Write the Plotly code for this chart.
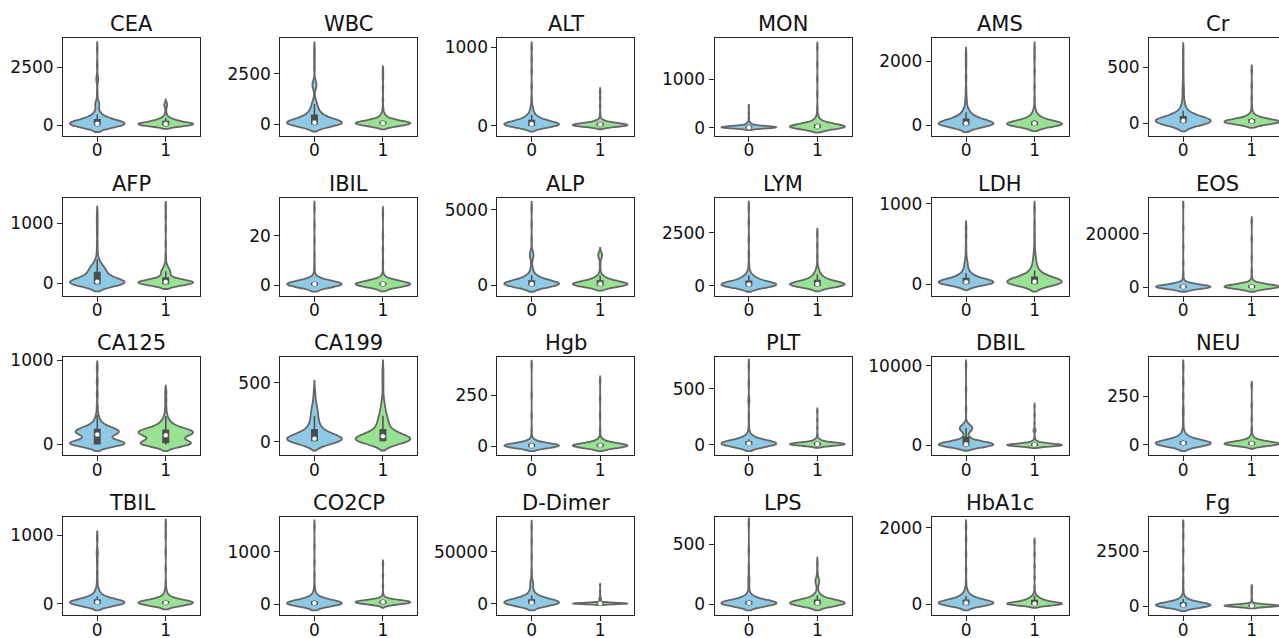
import numpy as np
import plotly.graph_objects as go

# ---------------- data ----------------
TITLES = ["CEA", "WBC", "ALT", "MON", "AMS", "Cr",
          "AFP", "IBIL", "ALP", "LYM", "LDH", "EOS",
          "CA125", "CA199", "Hgb", "PLT", "DBIL", "NEU",
          "TBIL", "CO2CP", "D-Dimer", "LPS", "HbA1c", "Fg"]
GROUPS = [0, 1]
GROUP_LABELS = ["0", "1"]
Y_TICK = [2500, 2500, 1000, 1000, 2000, 500,
          1000, 20, 5000, 2500, 1000, 20000,
          1000, 500, 250, 500, 10000, 250,
          1000, 1000, 50000, 500, 2000, 2500]
Y_RANGE = [(-473, 3750), (-583, 4272), (-128, 1119), (-172, 1848), (-343, 2720), (-116, 759),
           (-203, 1420), (-4.28, 35.3), (-704, 5815), (-468, 4170), (-144, 1078), (-3060, 33370),
           (-129, 1035), (-117.5, 716), (-43.6, 435), (-94, 780), (-1240, 11030), (-54, 448),
           (-166, 1263), (-203, 1659), (-10940, 83400), (-89, 728), (-279, 2279), (-410, 4046)]
BANDWIDTH = [(150, 85), (180, 125), (36, 21), (24, 52), (110, 95), (37, 22),
             (65, 46), (1.33, 1.25), (220, 186), (140, 132), (37, 47), (800, 800),
             (39, 39), (38, 38), (11.3, 11.3), (28, 13), (330, 165), (16, 10),
             (48, 41), (57, 32), (3200, 640), (25, 25), (78, 44), (114, 53)]

# value / count tables for each violin
CEA_0_val = [0, 20, 50, 100, 200, 300, 450, 600, 850, 950, 1400, 1950, 2050, 2600, 3270]
CEA_0_cnt = [22, 22, 18, 14, 12, 10, 5, 2, 3, 3, 1, 2, 1, 1, 1]
CEA_1_val = [0, 15, 40, 80, 150, 220, 300, 450, 600, 800, 900, 930]
CEA_1_cnt = [22, 22, 18, 14, 12, 10, 5, 2, 1, 2, 2, 1]

WBC_0_val = [0, 30, 80, 150, 300, 450, 650, 850, 1000, 1200, 1800, 1950, 2100, 2800, 3300, 3690]
WBC_0_cnt = [22, 22, 18, 14, 12, 10, 6, 4, 3, 2, 2, 3, 2, 1, 1, 1]
WBC_1_val = [0, 20, 50, 100, 180, 280, 400, 550, 800, 1200, 1800, 2300, 2610]
WBC_1_cnt = [25, 25, 20, 14, 10, 6, 4, 2, 1, 1, 1, 1, 1]

ALT_0_val = [0, 10, 25, 45, 70, 100, 140, 190, 250, 350, 500, 700, 850, 990]
ALT_0_cnt = [20, 22, 20, 15, 10, 8, 5, 3, 2, 1, 1, 1, 1, 1]
ALT_1_val = [0, 8, 18, 30, 45, 65, 90, 150, 250, 350, 440]
ALT_1_cnt = [25, 25, 20, 14, 8, 4, 2, 1, 1, 1, 1]

MON_0_val = [0, 5, 12, 22, 35, 60, 85, 110, 200, 300, 420]
MON_0_cnt = [25, 25, 20, 12, 6, 3, 3, 2, 1, 1, 1]
MON_1_val = [0, 10, 25, 50, 80, 120, 170, 250, 400, 700, 1000, 1300, 1650]
MON_1_cnt = [25, 25, 20, 14, 10, 6, 3, 2, 1, 1, 1, 1, 1]

AMS_0_val = [0, 20, 50, 100, 180, 280, 400, 550, 800, 1100, 1500, 1900, 2200]
AMS_0_cnt = [22, 22, 18, 14, 12, 9, 5, 3, 2, 1, 1, 1, 1]
AMS_1_val = [0, 20, 50, 90, 160, 250, 350, 500, 800, 1200, 1700, 2100, 2390]
AMS_1_cnt = [25, 25, 20, 14, 10, 6, 4, 2, 1, 1, 1, 1, 1]

CR_0_val = [0, 8, 20, 35, 55, 80, 110, 150, 200, 280, 350, 420, 520, 640]
CR_0_cnt = [20, 25, 22, 14, 10, 7, 4, 3, 2, 2, 1, 1, 1, 1]
CR_1_val = [0, 6, 15, 28, 45, 65, 90, 140, 220, 330, 470]
CR_1_cnt = [20, 25, 22, 14, 8, 4, 2, 1, 1, 1, 1]

AFP_0_val = [0, 10, 30, 70, 120, 180, 250, 320, 400, 500, 650, 850, 1000, 1140]
AFP_0_cnt = [30, 22, 10, 10, 10, 10, 10, 5, 2, 1, 1, 1, 1, 1]
AFP_1_val = [0, 10, 25, 50, 90, 150, 200, 250, 320, 450, 650, 900, 1100, 1260]
AFP_1_cnt = [30, 25, 18, 10, 6, 6, 7, 4, 2, 1, 1, 1, 1, 1]

IBIL_0_val = [0, 0.2, 0.4, 0.7, 1.0, 1.5, 2.2, 3.0, 5, 8, 12, 18, 24, 31]
IBIL_0_cnt = [20, 25, 22, 14, 8, 5, 3, 2, 1, 1, 1, 1, 1, 1]
IBIL_1_val = [0, 0.2, 0.4, 0.7, 1.0, 1.5, 2.2, 3.0, 5, 9, 14, 20, 29]
IBIL_1_cnt = [20, 25, 22, 14, 8, 5, 3, 2, 1, 1, 1, 1, 1]

ALP_0_val = [0, 30, 80, 150, 280, 450, 650, 900, 1200, 1800, 2000, 2200, 3000, 4000, 5100]
ALP_0_cnt = [22, 22, 18, 14, 12, 9, 5, 2, 2, 2, 3, 2, 1, 1, 1]
ALP_1_val = [0, 30, 80, 150, 280, 450, 650, 1000, 1400, 1850, 2000, 2100]
ALP_1_cnt = [25, 25, 20, 14, 10, 8, 3, 1, 1, 2, 3, 2]

LYM_0_val = [0, 20, 60, 120, 220, 350, 500, 700, 1000, 1500, 2200, 3000, 3700]
LYM_0_cnt = [22, 22, 18, 14, 12, 9, 5, 2, 1, 1, 1, 1, 1]
LYM_1_val = [0, 30, 80, 150, 250, 400, 550, 750, 1000, 1400, 1900, 2440]
LYM_1_cnt = [20, 22, 20, 16, 12, 8, 5, 3, 1, 1, 1, 1]

LDH_0_val = [0, 10, 25, 45, 70, 100, 140, 190, 250, 300, 380, 480, 600, 710]
LDH_0_cnt = [18, 22, 22, 18, 12, 9, 6, 4, 3, 2, 1, 1, 1, 1]
LDH_1_val = [0, 12, 30, 55, 85, 120, 170, 230, 300, 380, 480, 600, 750, 935]
LDH_1_cnt = [18, 22, 22, 18, 12, 9, 6, 4, 3, 2, 1, 1, 1, 1]

EOS_0_val = [0, 100, 250, 500, 900, 1400, 2000, 3000, 5000, 9000, 15000, 22000, 30300]
EOS_0_cnt = [25, 25, 20, 14, 8, 4, 2, 1, 1, 1, 1, 1, 1]
EOS_1_val = [0, 120, 300, 600, 1000, 1500, 2200, 3500, 6000, 11000, 18000, 24500]
EOS_1_cnt = [22, 25, 20, 15, 9, 5, 2, 1, 1, 1, 1, 1]

CA125_0_val = [0, 10, 25, 60, 120, 150, 180, 220, 280, 350, 450, 600, 750, 910]
CA125_0_cnt = [15, 20, 15, 6, 14, 18, 14, 8, 4, 2, 1, 1, 1, 1]
CA125_1_val = [0, 10, 25, 60, 110, 140, 170, 210, 270, 340, 420, 520, 620]
CA125_1_cnt = [12, 15, 12, 6, 14, 20, 16, 9, 5, 2, 1, 1, 1]

CA199_0_val = [0, 10, 25, 45, 70, 100, 140, 180, 220, 260, 300, 350, 400, 440]
CA199_0_cnt = [18, 22, 20, 14, 10, 8, 6, 5, 4, 4, 3, 2, 1, 1]
CA199_1_val = [0, 10, 25, 45, 70, 100, 140, 180, 220, 270, 330, 400, 480, 550, 615]
CA199_1_cnt = [18, 22, 20, 14, 10, 8, 7, 6, 5, 4, 3, 1, 1, 1, 1]

HGB_0_val = [0, 2, 5, 10, 16, 24, 33, 45, 80, 150, 250, 397]
HGB_0_cnt = [25, 25, 20, 12, 7, 4, 2, 1, 1, 1, 1, 1]
HGB_1_val = [0, 2, 5, 10, 16, 24, 33, 45, 80, 150, 230, 320]
HGB_1_cnt = [25, 25, 20, 12, 7, 4, 3, 1, 1, 1, 1, 1]

PLT_0_val = [0, 5, 12, 22, 35, 50, 70, 95, 150, 250, 380, 410, 550, 705]
PLT_0_cnt = [22, 25, 20, 14, 9, 6, 4, 2, 1, 1, 1, 1, 1, 1]
PLT_1_val = [0, 3, 8, 14, 22, 32, 45, 60, 90, 150, 220, 300]
PLT_1_cnt = [20, 25, 22, 15, 9, 5, 3, 2, 1, 1, 1, 1]

DBIL_0_val = [0, 50, 150, 300, 500, 750, 1100, 1500, 1900, 2200, 2500, 3000, 4500, 7000, 10000]
DBIL_0_cnt = [25, 25, 20, 14, 9, 5, 3, 2, 8, 10, 6, 1, 1, 1, 1]
DBIL_1_val = [0, 30, 80, 160, 280, 450, 650, 1000, 1800, 2000, 2800, 3800, 4900]
DBIL_1_cnt = [25, 25, 20, 14, 8, 4, 2, 1, 2, 2, 1, 1, 1]

NEU_0_val = [0, 4, 9, 16, 25, 36, 50, 70, 110, 160, 185, 250, 320, 400]
NEU_0_cnt = [20, 25, 22, 14, 9, 5, 3, 2, 1, 1, 1, 1, 1, 1]
NEU_1_val = [0, 3, 7, 12, 18, 26, 36, 50, 80, 130, 200, 302]
NEU_1_cnt = [20, 25, 22, 14, 9, 5, 3, 2, 1, 1, 1, 1]

TBIL_0_val = [0, 8, 20, 40, 70, 110, 160, 220, 320, 450, 600, 720, 760, 960]
TBIL_0_cnt = [22, 25, 20, 14, 9, 6, 4, 2, 1, 1, 1, 1, 1, 1]
TBIL_1_val = [0, 6, 15, 30, 55, 90, 130, 190, 300, 500, 750, 1000, 1145]
TBIL_1_cnt = [22, 25, 20, 14, 9, 5, 3, 2, 1, 1, 1, 1, 1]

CO2CP_0_val = [0, 10, 25, 45, 75, 110, 160, 230, 350, 550, 800, 1100, 1480]
CO2CP_0_cnt = [22, 25, 20, 14, 9, 6, 4, 2, 1, 1, 1, 1, 1]
CO2CP_1_val = [0, 15, 30, 45, 60, 75, 95, 130, 200, 350, 550, 770]
CO2CP_1_cnt = [8, 15, 20, 22, 20, 12, 6, 3, 1, 1, 1, 1]

DDIMER_0_val = [0, 400, 1000, 2000, 3500, 5500, 8000, 11000, 15000, 19000, 21000, 30000, 45000, 60000, 73700]
DDIMER_0_cnt = [22, 22, 18, 14, 12, 9, 5, 3, 2, 2, 2, 1, 1, 1, 1]
DDIMER_1_val = [0, 100, 250, 500, 900, 1500, 2500, 4500, 5500, 8000, 12000, 17950]
DDIMER_1_cnt = [25, 25, 20, 14, 8, 4, 2, 2, 2, 1, 1, 1]

LPS_0_val = [0, 5, 12, 22, 35, 50, 70, 95, 150, 200, 220, 300, 450, 667]
LPS_0_cnt = [22, 25, 20, 14, 9, 6, 3, 2, 1, 1, 1, 1, 1, 1]
LPS_1_val = [0, 5, 12, 22, 35, 52, 75, 100, 150, 185, 205, 260, 340]
LPS_1_cnt = [20, 24, 20, 14, 9, 6, 4, 2, 1, 3, 3, 1, 1]

HBA1C_0_val = [0, 15, 40, 70, 110, 160, 220, 300, 400, 600, 900, 1300, 1700, 2035]
HBA1C_0_cnt = [20, 22, 20, 15, 10, 8, 5, 3, 2, 1, 1, 1, 1, 1]
HBA1C_1_val = [0, 8, 20, 40, 70, 100, 140, 180, 230, 300, 450, 700, 1000, 1300, 1627]
HBA1C_1_cnt = [22, 24, 18, 12, 10, 9, 8, 5, 3, 2, 1, 1, 1, 1, 1]

FG_0_val = [0, 15, 40, 80, 140, 220, 320, 450, 700, 1100, 1700, 2500, 3200, 3670]
FG_0_cnt = [22, 22, 18, 14, 12, 8, 4, 2, 1, 1, 1, 1, 1, 1]
FG_1_val = [0, 8, 20, 35, 55, 85, 130, 200, 350, 550, 700, 850]
FG_1_cnt = [25, 25, 20, 14, 8, 4, 2, 1, 1, 1, 1, 1]

TABLES = [
    [(CEA_0_val, CEA_0_cnt), (CEA_1_val, CEA_1_cnt)],
    [(WBC_0_val, WBC_0_cnt), (WBC_1_val, WBC_1_cnt)],
    [(ALT_0_val, ALT_0_cnt), (ALT_1_val, ALT_1_cnt)],
    [(MON_0_val, MON_0_cnt), (MON_1_val, MON_1_cnt)],
    [(AMS_0_val, AMS_0_cnt), (AMS_1_val, AMS_1_cnt)],
    [(CR_0_val, CR_0_cnt), (CR_1_val, CR_1_cnt)],
    [(AFP_0_val, AFP_0_cnt), (AFP_1_val, AFP_1_cnt)],
    [(IBIL_0_val, IBIL_0_cnt), (IBIL_1_val, IBIL_1_cnt)],
    [(ALP_0_val, ALP_0_cnt), (ALP_1_val, ALP_1_cnt)],
    [(LYM_0_val, LYM_0_cnt), (LYM_1_val, LYM_1_cnt)],
    [(LDH_0_val, LDH_0_cnt), (LDH_1_val, LDH_1_cnt)],
    [(EOS_0_val, EOS_0_cnt), (EOS_1_val, EOS_1_cnt)],
    [(CA125_0_val, CA125_0_cnt), (CA125_1_val, CA125_1_cnt)],
    [(CA199_0_val, CA199_0_cnt), (CA199_1_val, CA199_1_cnt)],
    [(HGB_0_val, HGB_0_cnt), (HGB_1_val, HGB_1_cnt)],
    [(PLT_0_val, PLT_0_cnt), (PLT_1_val, PLT_1_cnt)],
    [(DBIL_0_val, DBIL_0_cnt), (DBIL_1_val, DBIL_1_cnt)],
    [(NEU_0_val, NEU_0_cnt), (NEU_1_val, NEU_1_cnt)],
    [(TBIL_0_val, TBIL_0_cnt), (TBIL_1_val, TBIL_1_cnt)],
    [(CO2CP_0_val, CO2CP_0_cnt), (CO2CP_1_val, CO2CP_1_cnt)],
    [(DDIMER_0_val, DDIMER_0_cnt), (DDIMER_1_val, DDIMER_1_cnt)],
    [(LPS_0_val, LPS_0_cnt), (LPS_1_val, LPS_1_cnt)],
    [(HBA1C_0_val, HBA1C_0_cnt), (HBA1C_1_val, HBA1C_1_cnt)],
    [(FG_0_val, FG_0_cnt), (FG_1_val, FG_1_cnt)],
]

# ---------------- style / layout ----------------
FILL = ["#8ECAE6", "#98E294"]
OUTLINE = "#666666"
BOXCOL = "#4d4d4d"
FRAME = "#262626"
TXT = "#111111"
FONT = "DejaVu Sans"

W, H = 1279, 638
LEFT0, PITCH_X, AX_W = 63.0, 217.2, 137.0
TOP0, PITCH_Y, AX_H = 38.0, 159.7, 98.0

fig = go.Figure()
layout = {}
annotations = []

for k, title in enumerate(TITLES):
    r, c = divmod(k, 6)
    sfx = "" if k == 0 else str(k + 1)
    xa, ya = "x" + sfx, "y" + sfx

    x0p = LEFT0 + c * PITCH_X
    x1p = x0p + AX_W
    xr_hi = 1.5
    if x1p > W:
        xr_hi = -0.5 + 2.0 * (W - x0p) / AX_W
        x1p = W
    y0p = TOP0 + r * PITCH_Y
    y1p = y0p + AX_H

    for g in GROUPS:
        vals, cnts = TABLES[k][g]
        samples = np.repeat(np.asarray(vals, dtype=float), cnts)
        fig.add_trace(go.Violin(
            y=samples, x0=g, xaxis=xa, yaxis=ya,
            width=0.8, bandwidth=BANDWIDTH[k][g], spanmode="soft",
            scalemode="width", points=False,
            fillcolor=FILL[g], opacity=1,
            line=dict(color=OUTLINE, width=1.8),
            box=dict(visible=True, width=0.1, fillcolor=BOXCOL,
                     line=dict(color=BOXCOL, width=1.5)),
            meanline=dict(visible=False),
            hoverinfo="skip", showlegend=False,
        ))
        fig.add_trace(go.Scatter(
            x=[g], y=[float(np.median(samples))], xaxis=xa, yaxis=ya,
            mode="markers",
            marker=dict(color="white", size=5, line=dict(color=BOXCOL, width=0.6)),
            hoverinfo="skip", showlegend=False,
        ))

    last_col = (c == 5)
    layout["xaxis" + sfx] = dict(
        domain=[x0p / W, x1p / W], anchor=ya, range=[-0.5, xr_hi],
        automargin=False, ticklabelstandoff=-6,
        tickmode="array", tickvals=GROUPS, ticktext=GROUP_LABELS,
        showline=True, linecolor=FRAME, linewidth=1, mirror=True,
        ticks="outside", ticklen=5, tickwidth=1, tickcolor=FRAME,
        showgrid=False, zeroline=False,
        tickfont=dict(family=FONT, size=17, color=TXT), fixedrange=True,
    )
    layout["yaxis" + sfx] = dict(
        domain=[1 - y1p / H, 1 - y0p / H], anchor=xa, range=list(Y_RANGE[k]),
        automargin=False,
        tickmode="array", tickvals=[0, Y_TICK[k]],
        ticktext=["0", str(Y_TICK[k])],
        showline=True, linecolor=FRAME, linewidth=1, mirror=(not last_col),
        ticks="outside", ticklen=5, tickwidth=1, tickcolor=FRAME,
        showgrid=False, zeroline=False,
        tickfont=dict(family=FONT, size=17, color=TXT), fixedrange=True,
    )
    annotations.append(dict(
        text=title, xref="paper", yref="paper",
        x=(x0p + AX_W / 2) / W, y=1 - y0p / H,
        xanchor="center", yanchor="bottom", yshift=0, showarrow=False,
        font=dict(family=FONT, size=21, color=TXT),
    ))

fig.update_layout(
    width=W, height=H, margin=dict(l=0, r=0, t=0, b=0, autoexpand=False),
    paper_bgcolor="white", plot_bgcolor="white",
    violinmode="overlay", showlegend=False,
    annotations=annotations, **layout,
)

fig.write_html("out.html", config={"displayModeBar": False})
